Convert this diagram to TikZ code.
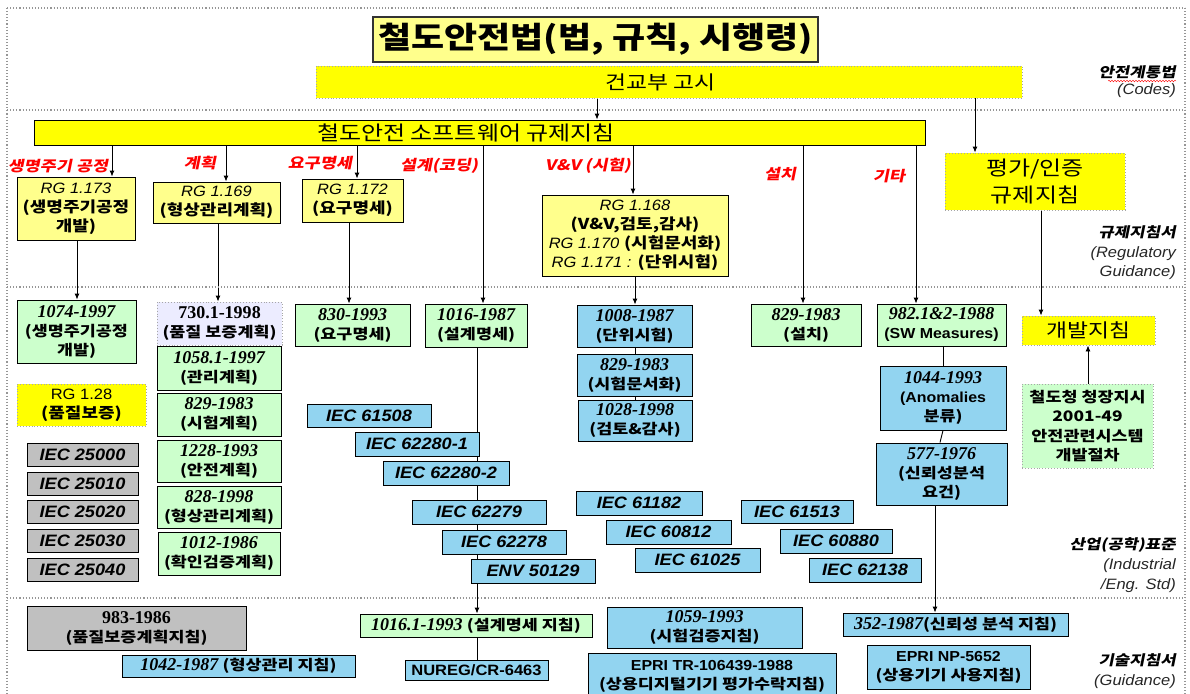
\documentclass[tikz,border=0pt]{standalone}
\usepackage{fontspec}
\setmainfont{Liberation Sans}[FakeStretch=1.1]
\newfontfamily\kr{Noto Sans CJK KR}[FakeStretch=1.2]
\newfontfamily\krsl{Noto Sans CJK KR}[FakeStretch=1.2,FakeSlant=0.2]
\newfontfamily\tms{Liberation Serif}
\usetikzlibrary{arrows.meta,decorations.pathmorphing}
\pgfdeclarelayer{bg}
\pgfsetlayers{bg,main}
\definecolor{lyel}{RGB}{255,255,140}
\definecolor{byel}{RGB}{255,255,0}
\definecolor{lgrn}{RGB}{204,255,204}
\definecolor{lblu}{RGB}{146,212,240}
\definecolor{lgry}{RGB}{192,192,192}
\definecolor{lvio}{RGB}{236,236,255}
\definecolor{bandc}{RGB}{150,150,150}
\newcommand\hk[1]{{\kr\bfseries #1}}
\newcommand\nm[1]{{\fontsize{18}{19}\selectfont\tms\bfseries\itshape #1}}
\newcommand\nmu[1]{{\fontsize{18}{19}\selectfont\tms\bfseries #1}}
\newcommand\rgf[1]{{\itshape #1}}
\newcommand\bx[7]{\node[#1, minimum width={#5-#3}, minimum height={#6-#4}] (#2) at ({(#3+#5)/2},{(#4+#6)/2}) {#7};}
\begin{document}
\begin{tikzpicture}[x=1pt,y=-1pt,
  bx/.style={draw=black, line width=0.9pt, inner sep=0pt, align=center, font=\fontsize{14.5}{19}\selectfont},
  yb/.style={bx, fill=lyel, font=\fontsize{15}{19}\selectfont},
  gb/.style={bx, fill=lgrn},
  bb/.style={bx, fill=lblu},
  grb/.style={bx, fill=lgry},
  iecb/.style={bb, font=\fontsize{16.5}{18}\selectfont\bfseries\itshape},
  iecg/.style={grb, font=\fontsize{16.5}{18}\selectfont\bfseries\itshape},
  dy/.style={bx, fill=byel, draw=gray!70, dotted},
  redlab/.style={text=red, font=\fontsize{14.5}{16}\selectfont\krsl\bfseries, inner sep=0pt},
  sidek/.style={anchor=east, inner sep=0pt, font=\fontsize{14}{15}\selectfont\krsl\bfseries},
  sidee/.style={anchor=east, inner sep=0pt, font=\fontsize{15}{16}\selectfont\itshape, text=black!85},
  arr/.style={-{Latex[length=6pt,width=5pt]}, line width=0.9pt},
  ln/.style={line width=0.9pt},
  band/.style={draw=bandc, dotted, line width=1.1pt}
]
\useasboundingbox (0,0) rectangle (1190,693);
\clip (0,0) rectangle (1190,693);
% bands
\draw[band] (7,8) -- (1185,8);
\draw[band] (7,110) -- (1185,110);
\draw[band] (7,287) -- (1185,287);
\draw[band] (7,598) -- (1185,598);
\draw[band] (7,8) -- (7,700);
\draw[band] (1185,8) -- (1185,700);
% band 1
\bx{yb, line width=1.5pt, draw=black!80, font=\fontsize{30}{34}\selectfont\kr\bfseries}{title}{373}{17}{818}{62}{철도안전법(법, 규칙, 시행령)}
\bx{dy}{gg}{316}{66}{1022}{98}{}
\node[font=\fontsize{19}{24}\selectfont\kr, inner sep=0pt, anchor=west] (ggt) at (605,82) {건교부 고시};
\node[sidek] (s1a) at (1176,72) {안전계통법};
\draw[red, decorate, decoration={snake, amplitude=0.8pt, segment length=3pt}] (1108,81) -- (1176,81);
\node[sidee] (s1b) at (1176,91) {(Codes)};
% band 2
\bx{bx, fill=byel}{bar}{34}{120}{925}{145}{}
\node[font=\fontsize{20}{22}\selectfont\kr, inner sep=0pt] (bart) at (466,133) {철도안전 소프트웨어 규제지침};
\node[redlab] (l1) at (58,166) {생명주기 공정};
\node[redlab] (l2) at (200,163) {계획};
\node[redlab] (l3) at (320,163) {요구명세};
\node[redlab] (l4) at (439,166) {설계(코딩)};
\node[redlab] (l5) at (588,166) {V\&V (시험)};
\node[redlab] (l6) at (780,174) {설치};
\node[redlab] (l7) at (889,176) {기타};
\bx{yb}{rg173}{17}{177}{135}{240}{\rgf{RG 1.173}\\\hk{(생명주기공정}\\\hk{개발)}}
\bx{yb}{rg169}{153}{182}{280}{223}{\rgf{RG 1.169}\\\hk{(형상관리계획)}}
\bx{yb}{rg172}{302}{179}{403}{222}{\rgf{RG 1.172}\\\hk{(요구명세)}}
\bx{yb}{rg168}{542}{195}{728}{276}{\rgf{RG 1.168}\\\hk{(V\&V,검토,감사)}\\\rgf{RG 1.170} \hk{(시험문서화)}\\\rgf{RG 1.171 :} \hk{(단위시험)}}
\bx{dy, font=\fontsize{20}{27}\selectfont\kr}{pv}{945}{153}{1125}{210}{평가/인증\\규제지침}
\node[sidek] (s2a) at (1176,232) {규제지침서};
\node[sidee] (s2b) at (1176,254) {(Regulatory};
\node[sidee] (s2c) at (1176,273) {Guidance)};
% band 3
\bx{gb}{d1074}{17}{300}{136}{363}{\nm{1074-1997}\\\hk{(생명주기공정}\\\hk{개발)}}
\bx{dy, font=\fontsize{15}{19}\selectfont}{rg128}{17}{384}{146}{426}{RG 1.28\\\hk{(품질보증)}}
\bx{iecg}{i25000}{27}{443}{138}{466}{IEC 25000}
\bx{iecg}{i25010}{27}{472}{138}{495}{IEC 25010}
\bx{iecg}{i25020}{27}{500}{138}{523}{IEC 25020}
\bx{iecg}{i25030}{27}{529}{138}{552}{IEC 25030}
\bx{iecg}{i25040}{27}{558}{138}{581}{IEC 25040}
\bx{bx, fill=lvio, draw=gray!70, dotted}{d730}{157}{302}{282}{345}{\nmu{730.1-1998}\\\hk{(품질 보증계획)}}
\bx{gb}{d1058}{157}{346}{281}{390}{\nm{1058.1-1997}\\\hk{(관리계획)}}
\bx{gb}{d829t}{157}{393}{281}{436}{\nm{829-1983}\\\hk{(시험계획)}}
\bx{gb}{d1228}{157}{440}{281}{482}{\nm{1228-1993}\\\hk{(안전계획)}}
\bx{gb}{d828}{157}{486}{281}{528}{\nm{828-1998}\\\hk{(형상관리계획)}}
\bx{gb}{d1012}{158}{532}{280}{575}{\nm{1012-1986}\\\hk{(확인검증계획)}}
\bx{gb}{d830}{295}{304}{410}{346}{\nm{830-1993}\\\hk{(요구명세)}}
\bx{gb}{d1016}{425}{304}{527}{347}{\nm{1016-1987}\\\hk{(설계명세)}}
\bx{iecb}{i61508}{307}{404}{431}{427}{IEC 61508}
\bx{iecb}{i622801}{355}{432}{479}{456}{IEC 62280-1}
\bx{iecb}{i622802}{383}{461}{509}{485}{IEC 62280-2}
\bx{iecb}{i62279}{412}{500}{546}{524}{IEC 62279}
\bx{iecb}{i62278}{442}{530}{566}{554}{IEC 62278}
\bx{iecb}{env}{471}{559}{595}{583}{ENV 50129}
\bx{bb}{d1008}{577}{305}{692}{347}{\nm{1008-1987}\\\hk{(단위시험)}}
\bx{bb}{d829d}{577}{354}{692}{396}{\nm{829-1983}\\\hk{(시험문서화)}}
\bx{bb}{d1028}{578}{400}{692}{441}{\nm{1028-1998}\\\hk{(검토\&감사)}}
\bx{iecb}{i61182}{576}{491}{702}{515}{IEC 61182}
\bx{iecb}{i60812}{606}{520}{731}{544}{IEC 60812}
\bx{iecb}{i61025}{635}{548}{760}{572}{IEC 61025}
\bx{gb}{d829i}{751}{304}{861}{346}{\nm{829-1983}\\\hk{(설치)}}
\bx{iecb}{i61513}{741}{500}{853}{523}{IEC 61513}
\bx{iecb}{i60880}{780}{529}{892}{553}{IEC 60880}
\bx{iecb}{i62138}{809}{558}{921}{582}{IEC 62138}
\bx{gb}{d982}{877}{304}{1006}{346}{\nm{982.1\&2-1988}\\\textbf{(SW Measures)}}
\bx{bb}{d1044}{880}{366}{1006}{430}{\nm{1044-1993}\\\textbf{(Anomalies}\\\hk{분류)}}
\bx{bb}{d577}{876}{443}{1007}{505}{\nm{577-1976}\\\hk{(신뢰성분석}\\\hk{요건)}}
\bx{dy, font=\fontsize{19}{24}\selectfont\kr}{kb}{1022}{316}{1155}{345}{개발지침}
\bx{bx, fill=lgrn, draw=gray!70, dotted, font=\fontsize{14.5}{19.5}\selectfont\kr\bfseries}{cd}{1022}{384}{1153}{468}{철도청 청장지시\\2001-49\\안전관련시스템\\개발절차}
\node[sidek] (s3a) at (1176,545) {산업(공학)표준};
\node[sidee] (s3b) at (1176,566) {(Industrial};
\node[sidee] (s3c) at (1176,586) {/Eng. Std)};
% band 4
\bx{grb}{d983}{27}{606}{246}{650}{\nmu{983-1986}\\\hk{(품질보증계획지침)}}
\bx{bb}{d1042}{122}{655}{355}{677}{\nm{1042-1987} \hk{(형상관리 지침)}}
\bx{gb}{d10161}{360}{614}{592}{637}{\nm{1016.1-1993} \hk{(설계명세 지침)}}
\bx{bb, font=\fontsize{15}{18}\selectfont\bfseries}{nureg}{405}{660}{548}{680}{NUREG/CR-6463}
\bx{bb}{d1059}{607}{607}{802}{648}{\nm{1059-1993}\\\hk{(시험검증지침)}}
\bx{bb}{epri1}{588}{653}{836}{700}{\textbf{EPRI TR-106439-1988}\\\hk{(상용디지털기기 평가수락지침)}}
\bx{bb}{d352}{843}{613}{1068}{636}{\nm{352-1987}\hk{(신뢰성 분석 지침)}}
\bx{bb}{epri2}{867}{645}{1030}{689}{\textbf{EPRI NP-5652}\\\hk{(상용기기 사용지침)}}
\node[sidek] (s4a) at (1176,660) {기술지침서};
\node[sidee] (s4b) at (1176,682) {(Guidance)};
% connectors
\begin{pgfonlayer}{bg}
\draw[arr] (gg.south -| 597,0) -- (bar.north -| 597,0);
\draw[arr] (gg.south -| 975,0) -- (pv.north -| 975,0);
\draw[arr] (bar.south -| 112,0) -- (rg173.north -| 112,0);
\draw[arr] (bar.south -| 226,0) -- (rg169.north -| 226,0);
\draw[arr] (bar.south -| 357,0) -- (rg172.north -| 357,0);
\draw[arr] (bar.south -| 483,0) -- (d1016.north -| 483,0);
\draw[arr] (bar.south -| 633,0) -- (rg168.north -| 633,0);
\draw[arr] (bar.south -| 803,0) -- (d829i.north -| 803,0);
\draw[arr] (bar.south -| 916,0) -- (d982.north -| 916,0);
\draw[arr] (rg173.south -| 77,0) -- (d1074.north -| 77,0);
\draw[arr] (rg169.south -| 218,0) -- (d730.north -| 218,0);
\draw[arr] (rg172.south -| 349,0) -- (d830.north -| 349,0);
\draw[arr] (rg168.south -| 635,0) -- (d1008.north -| 635,0);
\draw[ln] (d1008.south -| 635,0) -- (d829d.north -| 635,0);
\draw[ln] (d829d.south -| 635,0) -- (d1028.north -| 635,0);
\draw[arr] (pv.south -| 1041,0) -- (kb.north -| 1041,0);
\draw[arr] (cd.north -| 1088,0) -- (kb.south -| 1088,0);
\draw[arr] (d1016.south -| 477,0) -- (d10161.north -| 477,0);
\draw[ln] (d10161.south -| 477,0) -- (nureg.north -| 477,0);
\draw[ln] (d982.south -| 943,0) -- (d1044.north -| 943,0);
\draw[ln] (d1044.south -| 943,0) -- (d577.north -| 940,0);
\draw[arr] (d577.south -| 935,0) -- (d352.north -| 935,0);
\end{pgfonlayer}
\end{tikzpicture}
\end{document}
